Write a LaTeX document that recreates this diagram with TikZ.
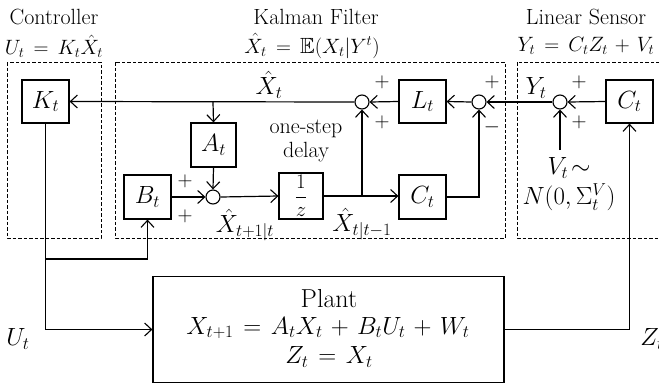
\documentclass[tikz,border=0pt]{standalone}
\usepackage{amsmath,amssymb}
\usepackage{fontspec}
\usetikzlibrary{arrows.meta}
\begin{document}
\begin{tikzpicture}[x=1pt,y=-1pt,
  blk/.style={draw,line width=1.2pt,minimum width=47pt,minimum height=43pt,inner sep=0pt,font=\fontsize{27}{30}\selectfont},
  sumc/.style={draw,circle,line width=1.1pt,minimum size=14pt,inner sep=0pt},
  wire/.style={line width=1.2pt},
  arr/.style={wire,-{Straight Barb[length=7pt,width=13pt,line width=1.1pt]}},
  dbox/.style={draw,line width=0.9pt,dash pattern=on 3.5pt off 2pt},
  lbl/.style={inner sep=0pt,font=\fontsize{22}{26}\selectfont},
  tmath/.style={inner sep=0pt,font={\fontsize{22}{26}\selectfont\thickmuskip 8mu\relax\medmuskip 6mu\relax}},
  lmath/.style={inner sep=0pt,font=\fontsize{24}{27}\selectfont},
  pmath/.style={inner sep=0pt,font={\fontsize{25}{28}\selectfont\thickmuskip 7mu\relax\medmuskip 6mu\relax}},
  sgn/.style={inner sep=0pt,font=\fontsize{22}{26}\selectfont}]
\useasboundingbox (0,0) rectangle (659,384);
% dashed group boxes
\draw[dbox] (7,62) rectangle (101,238);
\draw[dbox] (115,62) rectangle (505,238);
\draw[dbox] (517,62) rectangle (690,238);
% titles
\node[lbl] (tc) at (54,17) {Controller};
\node[tmath] (tce) at (54,46) {$U_t = K_t\hat{X}_t$};
\node[lbl] (tk) at (316,17) {Kalman Filter};
\node[tmath] (tke) at (312,46) {$\hat{X}_t = \mathbb{E}(X_t|Y^t)$};
\node[lbl] (ts) at (586,17) {Linear Sensor};
\node[tmath] (tse) at (586,46) {$Y_t = C_tZ_t + V_t$};
% blocks
\node[blk] (K) at (45.5,101.5) {$K_t$};
\node[blk,minimum width=45pt,minimum height=44pt] (A) at (213.5,145) {$A_t$};
\node[blk,minimum height=44pt] (B) at (147.5,197) {$B_t$};
\node[blk,minimum width=44pt,minimum height=46pt,font=\fontsize{22}{26}\selectfont] (D) at (301,196) {$\dfrac{1}{z}$};
\node[blk,minimum height=44pt] (C1) at (422.5,197) {$C_t$};
\node[blk] (L) at (422.5,101.5) {$L_t$};
\node[blk] (Cs) at (629.5,101.5) {$C_t$};
\node[draw,line width=1.2pt,minimum width=351pt,minimum height=106pt,inner sep=0pt] (P) at (328.5,329.5) {};
\node[lbl,font=\fontsize{26}{30}\selectfont] (pt1) at (329,299) {Plant};
\node[pmath] (pt2) at (328,328) {$X_{t+1} = A_tX_t + B_tU_t + W_t$};
\node[pmath] (pt3) at (329,357) {$Z_t = X_t$};
% summing junctions
\node[sumc] (s0) at (213,197) {};
\node[sumc] (s1) at (362,102) {};
\node[sumc] (s2) at (479,102) {};
\node[sumc] (s3) at (560,102) {};
% coordinates
\coordinate (jA) at (213,102);
\coordinate (jD) at (362,196);
\coordinate (cC) at (479,197);
\coordinate (jU) at (45.5,259);
\coordinate (cB) at (147.5,259);
\coordinate (cU) at (45.5,329.5);
\coordinate (vS) at (560,150);
\coordinate (cZ) at (629.5,329.5);
% connectors
\draw[arr] (Cs.west) -- (s3.east);
\draw[arr] (s3.west) -- (s2.east);
\draw[arr] (vS) -- (s3.south);
\draw[arr] (P.east) -- (cZ) -- (Cs.south);
\draw[arr] (s2.west) -- (L.east);
\draw[arr] (L.west) -- (s1.east);
\draw[arr] (s1.west) -- (K.east);
\draw[arr] (jA) -- (A.north);
\draw[arr] (A.south) -- (s0.north);
\draw[arr] (B.east) -- (s0.west);
\draw[arr] (s0.east) -- (D.west);
\draw[arr] (D.east |- jD) -- (C1.west |- jD);
\draw[arr] (jD) -- (s1.south);
\draw[arr] (C1.east) -- (cC) -- (s2.south);
\draw[arr] (K.south) -- (cU) -- (P.west);
\draw[arr] (jU) -- (cB) -- (B.south);
% labels
\node[lmath] (lx) at (269,85) {$\hat{X}_t$};
\node[sgn] (p1a) at (382,82) {$+$};
\node[sgn] (p1b) at (382,122) {$+$};
\node[sgn] (p2a) at (492,82) {$+$};
\node[sgn] (p2b) at (492,127) {$-$};
\node[sgn] (p3a) at (579,82) {$+$};
\node[sgn] (p3b) at (579,122) {$+$};
\node[sgn] (p0a) at (185,181) {$+$};
\node[sgn] (p0b) at (185,216) {$+$};
\node[lmath] (ly) at (536,88) {$Y_t$};
\node[lmath] (lx1) at (245,225) {$\hat{X}_{t+1|t}$};
\node[lmath] (lx2) at (362,224) {$\hat{X}_{t|t-1}$};
\node[lbl] (os1) at (306,129) {one-step};
\node[lbl] (os2) at (306,152) {delay};
\node[lmath] (lv1) at (569,168) {$V_t\!\sim$};
\node[lmath] (lv2) at (569,197) {$N(0,\Sigma_t^V)$};
\node[lmath] (lu) at (18,339) {$U_t$};
\node[lmath] (lz) at (652,339) {$Z_t$};
\end{tikzpicture}
\end{document}
